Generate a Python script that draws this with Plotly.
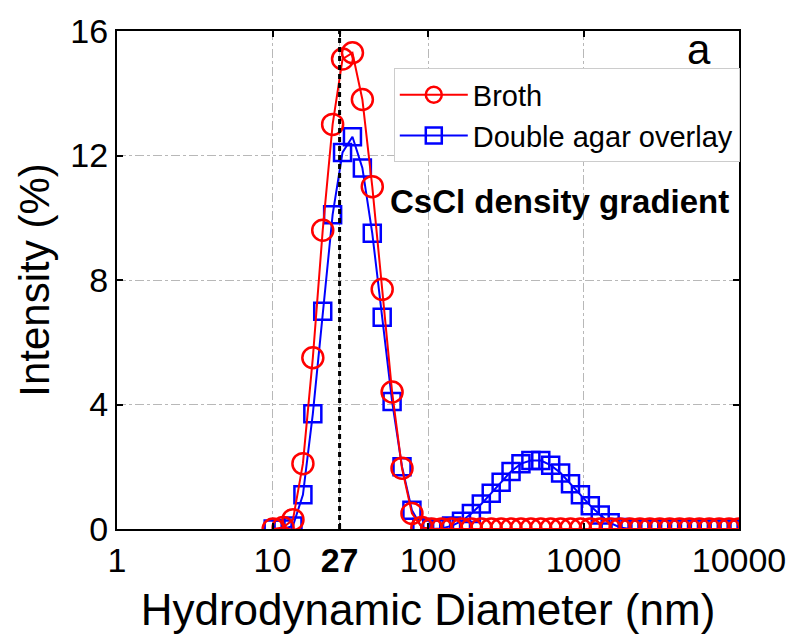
import plotly.graph_objects as go

# Hydrodynamic diameter bins (nm)
diameter = [10.10, 11.70, 13.54, 15.69, 18.17, 21.04, 24.36, 28.21, 32.67, 37.84,
            43.82, 50.75, 58.77, 68.06, 78.82, 91.28, 105.7, 122.4, 141.8, 164.2,
            190.1, 220.2, 255.0, 295.3, 342.0, 396.1, 458.7, 531.2, 615.1, 712.4,
            825.0, 955.4, 1106, 1281, 1484, 1718, 1990, 2305, 2669, 3091,
            3580, 4145, 4801, 5560, 6439, 7456, 8635, 10000]

broth = [0.0, 0.05, 0.3, 2.1, 5.5, 9.6, 13.0, 15.1, 15.3, 13.8,
         11.0, 7.7, 4.4, 1.95, 0.5, 0.05, 0, 0, 0, 0,
         0, 0, 0, 0, 0, 0, 0, 0, 0, 0,
         0, 0, 0, 0, 0, 0, 0, 0, 0, 0,
         0, 0, 0, 0, 0, 0, 0, 0]

double_agar = [0.0, 0.0, 0.1, 1.1, 3.7, 7.0, 10.1, 12.1, 12.6, 11.6,
               9.5, 6.8, 4.1, 2.0, 0.6, 0.05, 0, 0.02, 0.1, 0.25,
               0.5, 0.8, 1.15, 1.5, 1.85, 2.1, 2.2, 2.2, 2.05, 1.8,
               1.45, 1.1, 0.75, 0.45, 0.2, 0.05, 0, 0, 0, 0,
               0, 0, 0, 0, 0, 0, 0, 0]

peak_marker = 27
x_tickvals = [1, 10, 27, 100, 1000, 10000]
x_ticktext = ["1", "10", "<b>27</b>", "100", "1000", "10000"]
y_tickvals = [0, 4, 8, 12, 16]

FONT = "Arial, Liberation Sans, sans-serif"

fig = go.Figure()

fig.add_trace(go.Scatter(
    x=diameter, y=double_agar, mode="lines+markers", name="Double agar overlay",
    line=dict(color="#0000ff", width=2),
    marker=dict(symbol="square-open", size=17, color="#0000ff", line=dict(width=2.5, color="#0000ff")),
    legendrank=2,
))
fig.add_trace(go.Scatter(
    x=diameter, y=broth, mode="lines+markers", name="Broth",
    line=dict(color="#ff0000", width=2),
    marker=dict(symbol="circle-open", size=21, color="#ff0000", line=dict(width=2.5, color="#ff0000")),
    legendrank=1,
))
fig.add_trace(go.Scatter(
    x=[peak_marker, peak_marker], y=[y_tickvals[0], y_tickvals[-1]], mode="lines",
    line=dict(color="black", width=3, dash="5px,4px"), showlegend=False, hoverinfo="skip",
))

fig.update_layout(
    width=798, height=638,
    margin=dict(l=117, r=55, t=24, b=107),
    paper_bgcolor="white", plot_bgcolor="white",
    font=dict(family=FONT, color="black"),
    showlegend=True,
    legend=dict(
        x=0.445, y=0.925, xanchor="left", yanchor="top",
        bgcolor="white", bordercolor="#cccccc", borderwidth=1,
        font=dict(size=29, family=FONT), itemwidth=68, tracegroupgap=0,
    ),
    annotations=[
        dict(text="a", x=0.936, y=0.962, xref="paper", yref="paper",
             xanchor="center", yanchor="middle",
             showarrow=False, font=dict(size=42, family=FONT)),
        dict(text="<b>CsCl density gradient</b>", x=0.712, y=0.658, xref="paper", yref="paper",
             xanchor="center", yanchor="middle",
             showarrow=False, font=dict(size=33, family=FONT)),
    ],
)

fig.update_xaxes(
    type="log", range=[0, 4],
    tickvals=x_tickvals, ticktext=x_ticktext,
    tickfont=dict(size=34, family=FONT),
    ticks="inside", ticklen=6, tickwidth=1.5, tickcolor="black",
    showline=True, linecolor="black", linewidth=2, mirror="ticks",
    showgrid=True, gridcolor="#b8b8b8", gridwidth=1, griddash="dashdot",
    zeroline=False,
    title=dict(text="Hydrodynamic Diameter (nm)", font=dict(size=44, family=FONT), standoff=16),
)
fig.update_yaxes(
    range=[0, 16], tickvals=y_tickvals,
    tickfont=dict(size=34, family=FONT),
    ticks="inside", ticklen=6, tickwidth=1.5, tickcolor="black",
    showline=True, linecolor="black", linewidth=2, mirror="ticks",
    showgrid=True, gridcolor="#b8b8b8", gridwidth=1, griddash="dashdot",
    zeroline=False,
    title=dict(text="Intensity (%)", font=dict(size=42, family=FONT), standoff=8),
)

fig.write_html("out.html")
